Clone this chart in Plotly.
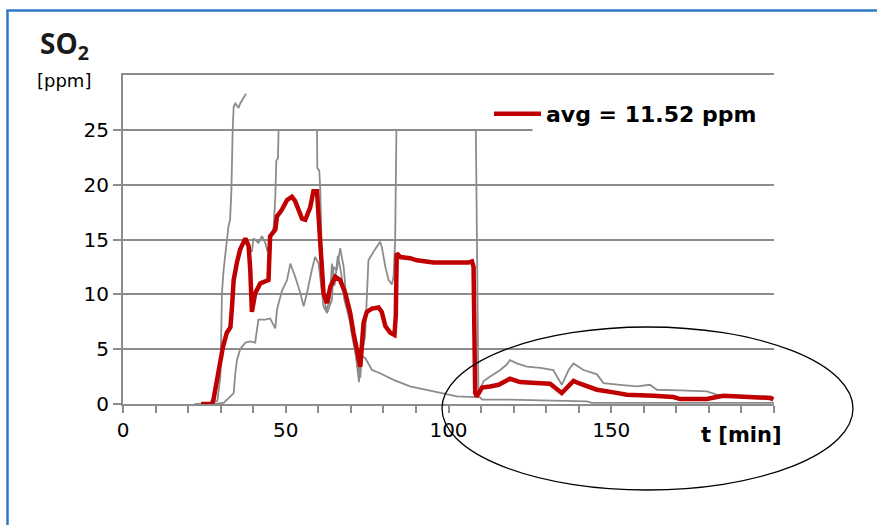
import plotly.graph_objects as go

# ---- data ----
avg_t = [24, 27.3, 27.8, 28.7, 29.6, 30.7, 31.9, 33.0, 33.5, 34.0, 35.0, 36.0, 37.6, 38.6, 39.1,
         39.3, 39.6, 40.6, 42.2, 44.7, 45.2, 46.8, 47.3, 48.8, 50.4, 51.9, 52.9, 55.0, 56.0, 57.5,
         58.5, 59.6, 60.1, 60.6, 61.1, 61.6, 62.7, 63.7, 65.2, 66.7, 68.3, 69.8, 70.8, 71.9, 72.9,
         73.9, 74.9, 76.5, 78.5, 79.5, 80.6, 82.1, 83.4, 83.8, 84.1, 85.2, 88.2, 90.3, 93.9, 95.4,
         106.1, 107.2, 107.7, 107.9, 108.2, 108.7, 110.3, 112.8, 115.4, 118.9, 122.0, 128.2, 131.2,
         134.8, 138.4, 140.4, 145.6, 150.7, 154.8, 163.0, 169.1, 171.2, 179.4, 182.4, 184.5, 198.8, 199.8]
avg_v = [0, 0, 0.4, 2.0, 3.8, 5.2, 6.5, 7.0, 8.9, 11.3, 12.9, 14.1, 15.1, 14.4, 12.2,
         9.5, 8.4, 10.1, 11.0, 11.3, 15.3, 15.9, 17.1, 17.7, 18.6, 18.9, 18.5, 16.9, 16.8, 17.9,
         19.4, 19.4, 15.9, 14.7, 12.5, 10.1, 9.2, 10.7, 11.6, 11.3, 10.1, 8.3, 6.5, 4.6, 3.4,
         7.4, 8.4, 8.7, 8.8, 8.4, 7.1, 6.5, 6.3, 8.0, 13.75, 13.4, 13.3, 13.1, 13.0, 12.9,
         12.9, 13.0, 12.5, 7.7, 1.0, 0.7, 1.5, 1.6, 1.75, 2.3, 2.0, 1.9, 1.85,
         1.0, 2.1, 1.85, 1.3, 1.06, 0.85, 0.76, 0.64, 0.45, 0.45, 0.64, 0.76, 0.55, 0.4]

run1_t = [22, 27, 29, 29.9, 30.1, 30.4, 30.9, 31.9, 32.4, 32.9, 33.3, 33.7, 34.0, 34.5, 35.5,
          36.0, 37.0, 37.8, 37.9, 38.1, 39.6, 40.1, 41.6, 42.7, 43.7, 44.4, 45.5, 46.3, 46.8,
          47.1, 47.6, 47.8, 50.0, 59.6, 59.7, 60.3, 60.6, 61.0, 61.6, 62.5, 63.5, 64.2, 65.0,
          66.0, 67.0, 68.0, 69.5, 70.5, 71.5, 72.5, 73.0, 74.4, 76.5, 79.0, 83.1, 88.2, 93.4,
          98.5, 102.6, 109.7, 110.3, 117.9, 142.5, 144.0, 200.0]
run1_v = [0, 0, 0.3, 2.5, 5.2, 10.1, 12.2, 15.0, 16.2, 16.8, 19.5, 25.0, 27.1, 27.4, 27.0,
          27.4, 27.9, 28.3, None, 14.4, 13.9, 15.1, 14.7, 15.3, 14.7, 13.9, 15.3, 16.2, 18.9,
          22.2, 22.4, 25.0, None, 25.0, 21.5, 21.3, 19.5, 14.5, 10.0, 8.5, 9.5, 12.8, 10.8,
          13.5, 12.0, 9.5, 7.8, 6.0, 4.5, 2.0, 4.4, 4.2, 3.1, 2.8, 2.2, 1.6, 1.3,
          1.0, 0.7, 0.6, 0.4, 0.4, 0.24, 0.1, 0.1]

run2_t = [28, 30.9, 33.0, 34.0, 34.5, 35.0, 36.0, 37.6, 39.1, 40.6, 41.6, 43.7, 45.2, 46.8,
          47.3, 48.8, 50.4, 51.4, 52.9, 54.5, 55.5, 56.5, 58.0, 59.0, 60.1, 61.1, 61.6, 62.7,
          64.2, 64.7, 65.7, 66.7, 67.8, 68.8, 69.8, 70.8, 71.9, 72.9, 73.4, 74.4, 74.9, 75.4,
          77.0, 79.0, 79.5, 80.6, 81.6, 82.6, 83.1, 83.6, 84.0, 90.0, 108.4, 109.2, 109.7,
          110.8, 112.8, 115.9, 117.9, 118.9, 121.0, 124.1, 128.2, 132.2, 134.8, 136.9, 138.4,
          141.5, 145.6, 147.6, 152.7, 157.9, 161.9, 164.0, 171.2, 179.4, 182.4, 199.8]
run2_v = [0, 0.1, 0.7, 1.0, 2.8, 4.0, 5.0, 5.6, 5.7, 5.6, 7.7, 7.7, 7.8, 6.9,
          8.6, 10.3, 11.3, 12.8, 11.6, 10.1, 8.9, 10.1, 12.2, 13.4, 12.8, 10.1, 8.9, 8.3,
          9.5, 12.5, 12.2, 14.2, 12.5, 8.9, 7.7, 5.9, 3.7, 2.4, 4.6, 6.2, 10.1, 13.1,
          13.9, 14.8, 14.35, 12.5, 11.3, 10.9, 11.6, 14.7, 25.0, None, 25.0, 1.0, 1.3,
          2.1, 2.5, 3.1, 3.6, 4.0, 3.7, 3.4, 3.3, 3.1, 1.75, 3.1, 3.7,
          3.1, 2.7, 1.9, 1.75, 1.6, 1.75, 1.3, 1.24, 1.15, 0.85, 0.64]

x_major_ticks = [0, 50, 100, 150]
y_ticks = [0, 5, 10, 15, 20, 25]
legend_label = "avg = 11.52 ppm"

GRAY = "#8c8c8c"
RED = "#c00000"
BLUE = "#2e78c8"

fig = go.Figure()
fig.add_trace(go.Scatter(x=run1_t, y=run1_v, mode="lines", line=dict(color=GRAY, width=1.8),
                         showlegend=False, connectgaps=False, hoverinfo="skip"))
fig.add_trace(go.Scatter(x=run2_t, y=run2_v, mode="lines", line=dict(color=GRAY, width=1.8),
                         showlegend=False, connectgaps=False, hoverinfo="skip"))
fig.add_trace(go.Scatter(x=avg_t, y=avg_v, mode="lines", line=dict(color=RED, width=4.5),
                         name=legend_label, showlegend=True))

W, H = 877, 525
L, R, T, B = 123, 103, 75, 121
pw, ph = W - L - R, H - T - B


def px(x):
    return (x - L) / pw


def py(y):
    return (H - B - y) / ph


fig.update_layout(
    width=W, height=H,
    margin=dict(l=L, r=R, t=T, b=B, pad=0),
    paper_bgcolor="white", plot_bgcolor="white",
    font=dict(family="DejaVu Sans", color="black"),
    showlegend=True,
    legend=dict(x=px(489), y=py(93), xanchor="left", yanchor="top",
                bgcolor="rgba(0,0,0,0)",
                font=dict(family="DejaVu Sans", size=22, color="black", weight="bold"),
                itemwidth=47, tracegroupgap=0),
    xaxis=dict(range=[0, 200], tickmode="array", tickvals=x_major_ticks,
               showgrid=False, zeroline=False, showline=True, linecolor=GRAY, linewidth=2,
               mirror=True, ticks="outside", ticklen=7, tickwidth=2, tickcolor=GRAY,
               minor=dict(dtick=10, tick0=0, ticks="outside", ticklen=7, tickwidth=2,
                          tickcolor=GRAY, showgrid=False),
               tickfont=dict(family="DejaVu Sans", size=20, color="black")),
    yaxis=dict(range=[0, 30], tickmode="array", tickvals=y_ticks,
               showgrid=True, gridcolor=GRAY, gridwidth=2, zeroline=False,
               showline=True, linecolor=GRAY, linewidth=2,
               ticks="outside", ticklen=8, tickwidth=2, tickcolor=GRAY,
               ticksuffix="\u2005",
               tickfont=dict(family="DejaVu Sans", size=20, color="black")),
    annotations=[
        dict(text="<b>SO<sub>2</sub></b>", x=px(38), y=py(22), xref="paper", yref="paper",
             xanchor="left", yanchor="top", showarrow=False,
             font=dict(family="Open Sans", size=28, color="#1a1a1a")),
        dict(text="[ppm]", x=px(35), y=py(81), xref="paper", yref="paper",
             xanchor="left", yanchor="middle", showarrow=False,
             font=dict(family="DejaVu Sans", size=18, color="black")),
        dict(text="<b>t [min]</b>", x=px(784), y=py(435), xref="paper", yref="paper",
             xanchor="right", yanchor="middle", showarrow=False,
             font=dict(family="DejaVu Sans", size=21, color="black")),
    ],
    shapes=[
        # hide the 25-gridline behind the legend area
        dict(type="rect", xref="x", yref="y", x0=125.8, x1=201, y0=24.4, y1=25.6,
             fillcolor="white", line=dict(width=0), layer="above"),
        # ellipse highlighting the tail
        dict(type="circle", xref="paper", yref="paper", x0=px(442), x1=px(853),
             y0=py(490), y1=py(327), line=dict(color="black", width=1.3), layer="above"),
        # blue frame (left and top)
        dict(type="line", xref="paper", yref="paper", x0=px(7.5), x1=px(7.5),
             y0=py(560), y1=py(10.5), line=dict(color=BLUE, width=2.5)),
        dict(type="line", xref="paper", yref="paper", x0=px(6.3), x1=px(900),
             y0=py(10.5), y1=py(10.5), line=dict(color=BLUE, width=2.5)),
    ],
)

fig.write_html("out.html")
